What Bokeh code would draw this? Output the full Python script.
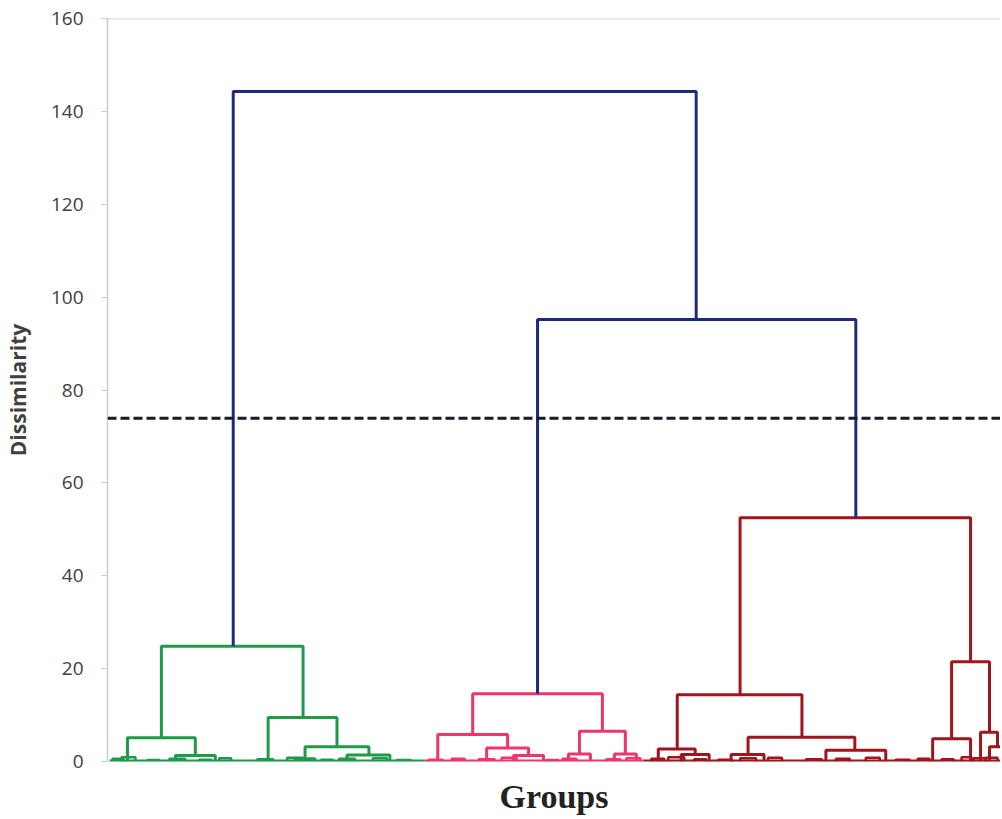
from bokeh.plotting import figure
from bokeh.models import Range1d, FixedTicker, Span, ColumnDataSource, LinearAxis
from bokeh.embed import file_html
from bokeh.resources import INLINE

# ---- data: dendrogram links (x in leaf-order units, heights in dissimilarity) ----
link_x0 = [126, 431, 634, 54, 20, 68, 161, 198, 240, 188,
           366, 331, 380, 407, 473, 462, 508,
           571, 552, 575, 642, 625, 720, 846, 827, 875, 884]
link_x1 = [590, 750, 865, 196, 88, 108, 230, 262, 283, 208,
           496, 401, 422, 437, 519, 484, 530,
           696, 589, 603, 749, 658, 780, 884, 865, 892, 900]
link_h = [144.3, 95.2, 52.5, 24.8, 5.1, 1.3, 9.5, 3.2, 1.4, 0.6,
          14.6, 5.8, 2.9, 1.3, 6.5, 1.6, 1.6,
          14.4, 2.7, 1.5, 5.2, 1.5, 2.4, 21.5, 4.9, 6.3, 3.2]
link_h0 = [24.8, 14.6, 14.4, 5.1, 0.0, 0.0, 0.0, 0.6, 0.0, 0.0,
           5.8, 0.0, 0.0, 0.0, 1.6, 0.0, 0.0,
           2.7, 0.0, 0.0, 1.5, 0.0, 0.0, 4.9, 0.0, 0.0, 0.0]
link_h1 = [95.2, 52.5, 21.5, 9.5, 1.3, 0.0, 3.2, 1.4, 0.0, 0.0,
           6.5, 2.9, 1.3, 0.0, 1.6, 0.0, 0.0,
           5.2, 1.5, 0.0, 2.4, 0.0, 0.0, 6.3, 0.0, 3.2, 0.0]
link_group = ["top", "top", "red", "green", "green", "green", "green", "green", "green", "green",
              "pink", "pink", "pink", "pink", "pink", "pink", "pink",
              "red", "red", "red", "red", "red", "red", "red", "red", "red", "red"]

# tiny leaf-level merges
tiny_x0 = [5, 14, 40, 62, 92, 112, 150, 180, 214, 232, 266, 290,
           322, 345, 372, 395, 440, 456, 500, 520,
           545, 562, 588, 612, 634, 662, 700, 730, 760, 790, 812, 836, 856, 868, 880]
tiny_x1 = [16, 28, 52, 78, 104, 124, 166, 196, 226, 248, 280, 304,
           336, 358, 388, 410, 452, 470, 514, 534,
           558, 578, 600, 626, 650, 676, 716, 744, 774, 804, 824, 848, 866, 880, 892]
tiny_h = [0.6, 0.9, 0.3, 0.6, 0.4, 0.7, 0.5, 0.8, 0.4, 0.6, 0.7, 0.3,
          0.4, 0.6, 0.5, 0.8, 0.3, 0.6, 0.5, 0.7,
          0.6, 0.9, 0.5, 0.4, 0.7, 0.8, 0.5, 0.6, 0.8, 0.4, 0.6, 0.5, 0.9, 0.7, 0.8]
tiny_group = ["green"] * 12 + ["pink"] * 8 + ["red"] * 15

# leaf spans per cluster
leaf_groups = ["green", "pink", "red"]
leaf_start = [2, 318, 537]
leaf_end = [318, 537, 900]

cut_height = 73.9
y_ticks = [0, 20, 40, 60, 80, 100, 120, 140, 160]

colors = {"top": "#1f2b7a", "green": "#1f9a4a", "pink": "#ee3768", "red": "#a0151d"}

p = figure(width=1000, height=819, output_backend="svg", toolbar_location=None,
           x_range=Range1d(0, 895), y_range=Range1d(0, 160),
           min_border_left=105, min_border_right=0, min_border_top=18, min_border_bottom=58,
           x_axis_location=None, y_axis_location=None)
p.outline_line_color = None
p.grid.visible = False
p.background_fill_color = "white"
p.border_fill_color = "white"

# y axis
yaxis = LinearAxis(ticker=FixedTicker(ticks=y_ticks), axis_label="Dissimilarity")
yaxis.axis_line_color = "#c3cbdc"
yaxis.axis_line_width = 1.5
yaxis.major_tick_line_color = "#c3cbdc"
yaxis.major_tick_out = 6
yaxis.major_tick_in = 0
yaxis.minor_tick_line_color = None
yaxis.major_label_text_font = "Open Sans"
yaxis.major_label_text_font_size = "19px"
yaxis.major_label_text_color = "#404040"
yaxis.major_label_standoff = 18
yaxis.axis_label_text_font = "Open Sans"
yaxis.axis_label_text_font_style = "bold"
yaxis.axis_label_text_font_size = "21px"
yaxis.axis_label_text_color = "#404040"
yaxis.axis_label_standoff = 16
p.add_layout(yaxis, "left")

# x axis (label only)
xaxis = LinearAxis(ticker=FixedTicker(ticks=[]), axis_label="Groups")
xaxis.axis_line_color = None
xaxis.major_tick_line_color = None
xaxis.minor_tick_line_color = None
xaxis.axis_label_text_font = "Liberation Serif"
xaxis.axis_label_text_font_style = "bold"
xaxis.axis_label_text_font_size = "34px"
xaxis.axis_label_text_color = "#222222"
xaxis.axis_label_standoff = 16
p.add_layout(xaxis, "below")

# top frame line
p.add_layout(Span(location=160, dimension="width", line_color="#c3cbdc", line_width=1.5))

# leaf baselines
p.segment(x0=leaf_start, y0=[0.1] * 3, x1=leaf_end, y1=[0.1] * 3,
          line_color=[colors[g] for g in leaf_groups], line_width=3)

# tiny merges
txs = [[a, a, b, b] for a, b in zip(tiny_x0, tiny_x1)]
tys = [[0, h, h, 0] for h in tiny_h]
p.multi_line(xs=txs, ys=tys, line_color=[colors[g] for g in tiny_group], line_width=2.5)

# main links (draw clusters first, top links last)
order = sorted(range(len(link_x0)), key=lambda i: 1 if link_group[i] == "top" else 0)
xs = [[link_x0[i], link_x0[i], link_x1[i], link_x1[i]] for i in order]
ys = [[link_h0[i], link_h[i], link_h[i], link_h1[i]] for i in order]
src = ColumnDataSource(dict(xs=xs, ys=ys, c=[colors[link_group[i]] for i in order]))
p.multi_line(xs="xs", ys="ys", line_color="c", line_width=3, source=src)

# cut line
p.add_layout(Span(location=cut_height, dimension="width", line_color="#1a1a2a",
                  line_width=3, line_dash="9 4"))

open("out.html", "w").write(file_html(p, INLINE))
